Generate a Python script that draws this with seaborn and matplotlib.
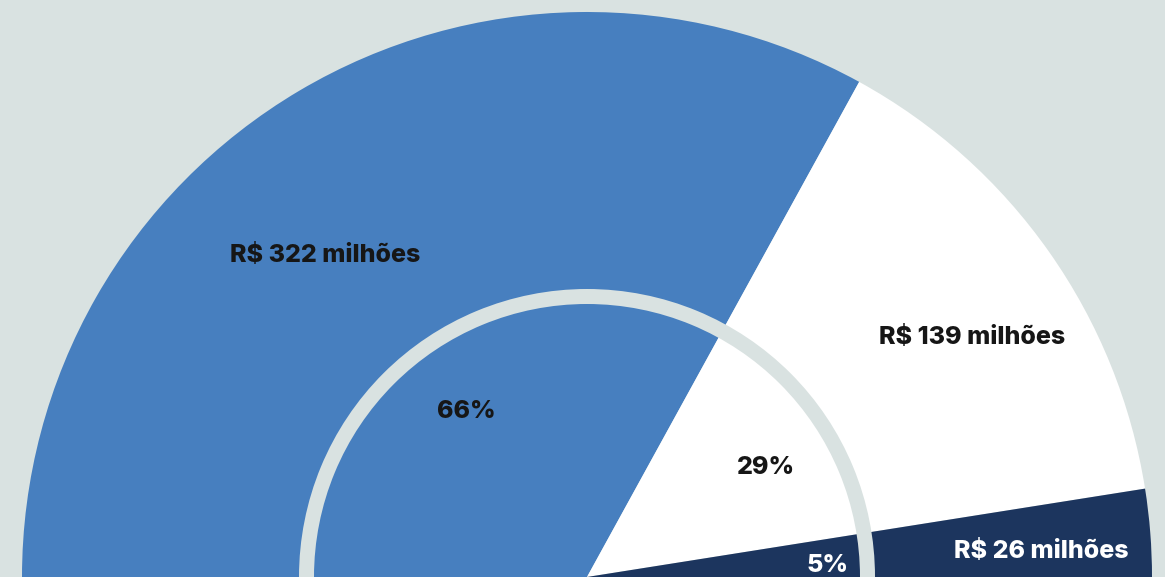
import matplotlib
matplotlib.use("Agg")
import matplotlib.pyplot as plt
import seaborn as sns

# Budget split (R$ millions) and share of total
categories = ["Grupo A", "Grupo B", "Grupo C"]
amounts = [322, 139, 26]
shares = [66, 29, 5]
amount_labels = ["R$ 322 milhões", "R$ 139 milhões", "R$ 26 milhões"]
share_labels = ["66%", "29%", "5%"]

BG = "#d9e2e1"
colors = sns.color_palette(["#477fbf", "#ffffff", "#1c355e"])
text_colors = ["#161616", "#161616", "#ffffff"]

sns.set_theme(style="white")
plt.rcParams["font.family"] = ["Inter", "DejaVu Sans"]

W, H = 1165, 577
fig = plt.figure(figsize=(W / 100, H / 100), dpi=100, facecolor=BG)
ax = fig.add_axes([0, 0, 1, 1])
ax.set_facecolor(BG)

cx, cy = 587, 0
outer_r = 565

# Half donut: shares fill the upper semicircle, clockwise from the left
fractions = [s / sum(shares) / 2 for s in shares]
ax.pie(fractions, colors=colors, startangle=180, counterclock=False,
       normalize=False, radius=outer_r, center=(cx, cy),
       wedgeprops=dict(linewidth=0), frame=True)

# Inner separating ring
ring_r, ring_w = 288, 15
ax.pie([1], colors=[BG], radius=ring_r, center=(cx, cy),
       wedgeprops=dict(width=ring_w, linewidth=0), frame=True)

# Amount labels in the outer band, share labels inside the ring
amount_pos = [(325, 255), (972, 337), (1041, 551)]
share_pos = [(466, 412), (766, 467), (827, 565)]
for lab, (px, py), c in zip(amount_labels, amount_pos, text_colors):
    ax.text(px, H - py, lab, ha="center", va="center", fontsize=18,
            fontweight="heavy", color=c)
for lab, (px, py), c in zip(share_labels, share_pos, text_colors):
    ax.text(px, H - py, lab, ha="center", va="center", fontsize=18,
            fontweight="heavy", color=c)

ax.set_xlim(0, W)
ax.set_ylim(0, H)
ax.set_aspect("equal")
ax.axis("off")

fig.savefig("out.png", dpi=100, facecolor=BG)
